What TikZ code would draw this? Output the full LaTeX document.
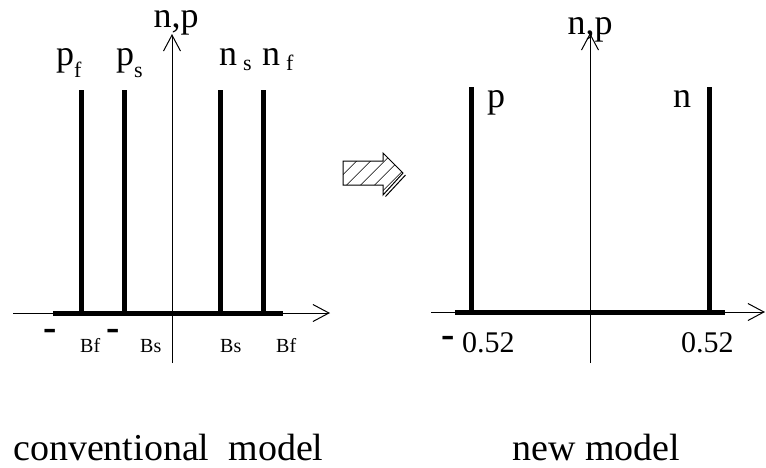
\documentclass[tikz,border=0pt]{standalone}
\usepackage{fontspec}
\setmainfont{Liberation Serif}
\usetikzlibrary{arrows.meta,patterns.meta}
\newcommand{\fsz}[1]{\fontsize{#1}{#1}\selectfont}
\newcommand{\lowsub}[2]{\raisebox{-#1pt}{\fsz{22}#2}}
\begin{document}
\begin{tikzpicture}[x=1pt,y=-1pt,
  thinline/.style={line width=1pt},
  axisarrow/.style={thinline,-{Straight Barb[length=16pt,width=17pt,line width=1pt]}},
  thickbar/.style={line width=5pt},
  lbl/.style={inner sep=0pt,anchor=base west,font=\fsz{36}},
  small/.style={inner sep=0pt,anchor=base west,font=\fsz{20}},
  num/.style={inner sep=0pt,anchor=base west,font=\fsz{30}},
  minus/.style={inner sep=0pt,anchor=base west,font=\fsz{40}\bfseries},
  caption/.style={inner sep=0pt,anchor=base west,font=\fsz{38}}]
\useasboundingbox (0,0) rectangle (766,467);

% ---------- left diagram ----------
\coordinate (lvb) at (172,363);
\coordinate (lvt) at (172,34);
\coordinate (lhl) at (13,313);
\coordinate (lhr) at (330,313);
\draw[axisarrow] (lvb) -- (lvt);
\draw[axisarrow] (lhl) -- (lhr);
\coordinate (lba) at (53,313);
\coordinate (lbb) at (283,313);
\draw[thickbar] (lba) -- (lbb);
\foreach \x/\n in {81/pf,124/ps,220/ns,263/nf}{
  \coordinate (\n top) at (\x,90);
  \coordinate (\n bot) at (\x,313);
  \draw[thickbar] (\n top) -- (\n bot);
}
\node[lbl,anchor=base] (lnp) at (176,27) {n,p};
\node[lbl] (lpf) at (56,65) {p\lowsub{12}{f}};
\node[lbl] (lps) at (116,65) {p\lowsub{12}{s}};
\node[lbl] (lns) at (219,65) {n\,\lowsub{5}{s}};
\node[lbl] (lnf) at (262,65) {n\,\lowsub{5}{f}};
\node[minus] (lm1) at (43,340) {-};
\node[minus] (lm2) at (106,340) {-};
\node[small] (lbf1) at (80,352) {Bf};
\node[small] (lbs1) at (140,352) {Bs};
\node[small] (lbs2) at (220,352) {Bs};
\node[small] (lbf2) at (276,352) {Bf};
\node[caption] (capl) at (13,460) {conventional\ \ model};

% ---------- hatched arrow ----------
\coordinate (ha1) at (343,161);
\coordinate (ha2) at (383,161);
\coordinate (ha3) at (383,153);
\coordinate (ha4) at (403,173);
\coordinate (ha5) at (383,195);
\coordinate (ha6) at (383,185);
\coordinate (ha7) at (343,185);
\draw[thinline,pattern={Lines[angle=45,distance=10.5pt,line width=0.9pt]}]
  (ha1) -- (ha2) -- (ha3) -- (ha4) -- (ha5) -- (ha6) -- (ha7) -- cycle;
\coordinate (hs1) at (405.5,175);
\coordinate (hs2) at (385.5,196.5);
\draw[thinline] (hs1) -- (hs2);

% ---------- right diagram ----------
\coordinate (rvb) at (590,363);
\coordinate (rvt) at (590,33);
\coordinate (rhl) at (431,312);
\coordinate (rhr) at (765,312);
\draw[axisarrow] (rvb) -- (rvt);
\draw[axisarrow] (rhl) -- (rhr);
\coordinate (rba) at (455,312);
\coordinate (rbb) at (725,312);
\draw[thickbar] (rba) -- (rbb);
\coordinate (rptop) at (471,87);
\coordinate (rpbot) at (471,312);
\coordinate (rntop) at (709,87);
\coordinate (rnbot) at (709,312);
\draw[thickbar] (rptop) -- (rpbot);
\draw[thickbar] (rntop) -- (rnbot);
\node[lbl,anchor=base] (rnp) at (590,34) {n,p};
\node[lbl] (rp) at (487,107) {p};
\node[lbl] (rn) at (673,107) {n};
\node[minus] (rm) at (441,347) {-};
\node[num] (rnum1) at (462,352) {0.52};
\node[num] (rnum2) at (681,352) {0.52};
\node[caption] (capr) at (512,460) {new model};
\end{tikzpicture}
\end{document}
